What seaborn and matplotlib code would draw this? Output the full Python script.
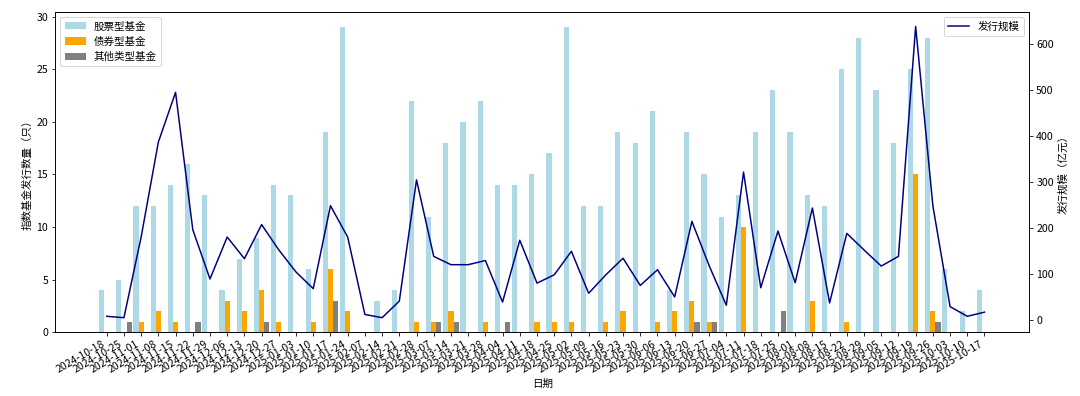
import numpy as np
import pandas as pd
import seaborn as sns
import matplotlib.pyplot as plt

plt.rcParams['font.family'] = ['Noto Sans CJK SC', 'DejaVu Sans']
plt.rcParams['axes.unicode_minus'] = False

# weekly dates (week of 2025-01-31 missing)
dates = ['2024-10-18', '2024-10-25', '2024-11-01', '2024-11-08', '2024-11-15', '2024-11-22',
         '2024-11-29', '2024-12-06', '2024-12-13', '2024-12-20', '2024-12-27', '2025-01-03',
         '2025-01-10', '2025-01-17', '2025-01-24', '2025-02-07', '2025-02-14', '2025-02-21',
         '2025-02-28', '2025-03-07', '2025-03-14', '2025-03-21', '2025-03-28', '2025-04-04',
         '2025-04-11', '2025-04-18', '2025-04-25', '2025-05-02', '2025-05-09', '2025-05-16',
         '2025-05-23', '2025-05-30', '2025-06-06', '2025-06-13', '2025-06-20', '2025-06-27',
         '2025-07-04', '2025-07-11', '2025-07-18', '2025-07-25', '2025-08-01', '2025-08-08',
         '2025-08-15', '2025-08-22', '2025-08-29', '2025-09-05', '2025-09-12', '2025-09-19',
         '2025-09-26', '2025-10-03', '2025-10-10', '2025-10-17']

# number of new funds per week
stock = [4, 5, 12, 12, 14, 16, 13, 4, 7, 9, 14, 13, 6, 19, 29, 0, 3, 4, 22, 11,
         18, 20, 22, 14, 14, 15, 17, 29, 12, 12, 19, 18, 21, 4, 19, 15, 11, 13, 19, 23,
         19, 13, 12, 25, 28, 23, 18, 25, 28, 6, 2, 4]
bond = [0, 0, 1, 2, 1, 0, 0, 3, 2, 4, 1, 0, 1, 6, 2, 0, 0, 0, 1, 1,
        2, 0, 1, 0, 0, 1, 1, 1, 0, 1, 2, 0, 1, 2, 3, 1, 0, 10, 0, 0,
        0, 3, 0, 1, 0, 0, 0, 15, 2, 0, 0, 0]
other = [0, 1, 0, 0, 0, 1, 0, 0, 0, 1, 0, 0, 0, 3, 0, 0, 0, 0, 0, 1,
         1, 0, 0, 1, 0, 0, 0, 0, 0, 0, 0, 0, 0, 0, 1, 1, 0, 0, 0, 2,
         0, 0, 0, 0, 0, 0, 0, 0, 1, 0, 0, 0]

# issuance scale (100 million yuan)
scale = [9, 6, 181, 387, 495, 197, 90, 181, 134, 208, 153, 105, 69, 249, 181, 13, 6, 42, 305, 139,
         121, 121, 130, 40, 174, 81, 99, 150, 59, 99, 135, 76, 110, 51, 215, 119, 33, 322, 71, 194,
         82, 244, 38, 189, 153, 118, 139, 638, 249, 30, 9, 18]

types = ['股票型基金', '债券型基金', '其他类型基金']
colors = {'股票型基金': 'lightblue', '债券型基金': 'orange', '其他类型基金': 'gray'}

df = pd.DataFrame({'日期': dates, '股票型基金': stock, '债券型基金': bond, '其他类型基金': other})
long_df = df.melt(id_vars='日期', value_vars=types, var_name='类型', value_name='数量')

fig, ax = plt.subplots(figsize=(15, 5.5), dpi=72)
fig.subplots_adjust(left=0.051, right=0.953, top=0.970, bottom=0.161)

sns.barplot(data=long_df, x='日期', y='数量', hue='类型', hue_order=types, palette=colors,
            width=0.9, saturation=1, errorbar=None, ax=ax)
ax.set_ylim(0, 30.45)
ax.set_xlabel('日期', fontsize=10.5)
ax.set_ylabel('指数基金发行数量（只）', fontsize=10.5)
ax.legend(loc='upper left', title=None, fontsize=10.5)
ax.tick_params(axis='y', labelsize=10.5)
plt.setp(ax.get_xticklabels(), rotation=30, ha='right', fontsize=10.5)

ax2 = ax.twinx()
sns.lineplot(x=np.arange(len(dates)), y=scale, color='navy', linewidth=1.5, label='发行规模', ax=ax2)
ax2.set_ylabel('发行规模（亿元）', fontsize=10.5)
ax2.tick_params(axis='y', labelsize=10.5)
ax2.legend(loc='upper right', fontsize=10.5)
ax.set_xlim(-3.0, 53.6)

plt.savefig('out.png', dpi=72)
